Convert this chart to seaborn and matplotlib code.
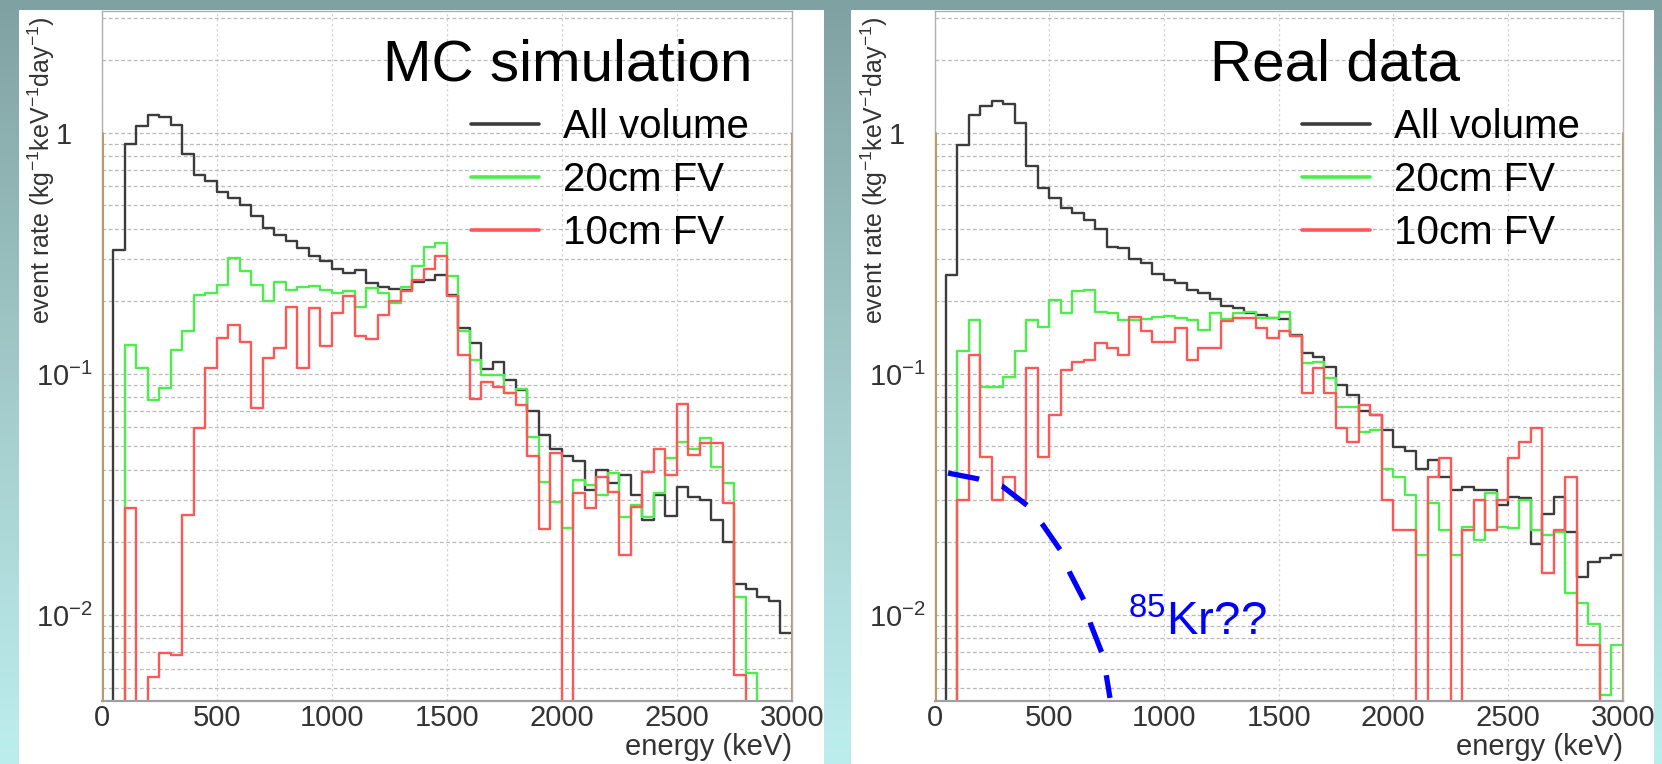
import numpy as np
import matplotlib
matplotlib.use("Agg")
import matplotlib.pyplot as plt
import seaborn as sns
from matplotlib.patches import Rectangle
from matplotlib.colors import LinearSegmentedColormap
from matplotlib.ticker import LogLocator, NullFormatter, MultipleLocator

# ---------------- data (event rate, kg^-1 keV^-1 day^-1, 50 keV bins) ----------------
energy_edges = np.arange(0, 3001, 50)  # keV

mc_all = [0, 0.327, 0.90, 1.07, 1.18, 1.16, 1.08, 0.82, 0.67, 0.63,
          0.57, 0.537, 0.503, 0.45, 0.403, 0.377, 0.357, 0.333, 0.307, 0.294,
          0.273, 0.263, 0.27, 0.238, 0.23, 0.224, 0.223, 0.241, 0.245, 0.257,
          0.213, 0.155, 0.134, 0.105, 0.112, 0.094, 0.086, 0.0705, 0.056, 0.049,
          0.0457, 0.0436, 0.033, 0.040, 0.0353, 0.038, 0.0315, 0.0248, 0.0315, 0.0258,
          0.0339, 0.031, 0.030, 0.0248, 0.0201, 0.0135, 0.0128, 0.0119, 0.0114, 0.0084]
mc_fv20 = [0, 0, 0.132, 0.106, 0.078, 0.087, 0.126, 0.151, 0.213, 0.216,
           0.234, 0.302, 0.266, 0.234, 0.200, 0.241, 0.223, 0.229, 0.232, 0.223,
           0.216, 0.22, 0.19, 0.227, 0.216, 0.197, 0.23, 0.279, 0.337, 0.349,
           0.255, 0.150, 0.114, 0.099, 0.099, 0.083, 0.0865, 0.0546, 0.0357, 0.0295,
           0.0229, 0.0363, 0.0346, 0.0315, 0.039, 0.0256, 0.0286, 0.0256, 0.032, 0.0447,
           0.0524, 0.049, 0.054, 0.0412, 0.0353, 0.0119, 0.00573, 0, 0, 0]
mc_fv10 = [0, 0, 0.0277, 0, 0.00555, 0.00694, 0.00685, 0.026, 0.0599, 0.106,
           0.141, 0.16, 0.136, 0.072, 0.116, 0.128, 0.19, 0.106, 0.187, 0.13,
           0.179, 0.211, 0.143, 0.139, 0.176, 0.2, 0.22, 0.246, 0.272, 0.309,
           0.211, 0.12, 0.0786, 0.093, 0.088, 0.083, 0.0744, 0.0457, 0.0227, 0.0472,
           0, 0.032, 0.0277, 0.0375, 0.0324, 0.0177, 0.0281, 0.0393, 0.049, 0.038,
           0.075, 0.0461, 0.0519, 0.0519, 0.0292, 0.00564, 0, 0, 0, 0]

data_all = [0, 0.257, 0.892, 1.19, 1.29, 1.35, 1.32, 1.10, 0.725, 0.59,
            0.535, 0.487, 0.465, 0.435, 0.398, 0.335, 0.332, 0.299, 0.288, 0.26,
            0.246, 0.238, 0.222, 0.216, 0.204, 0.192, 0.187, 0.179, 0.176, 0.171,
            0.169, 0.145, 0.122, 0.118, 0.107, 0.09, 0.082, 0.0699, 0.0677, 0.0587,
            0.0499, 0.048, 0.0405, 0.0441, 0.0375, 0.033, 0.034, 0.033, 0.033, 0.0286,
            0.0308, 0.0306, 0.0198, 0.0263, 0.0308, 0.0222, 0.0144, 0.0166, 0.0172, 0.0177]
data_fv20 = [0, 0, 0.124, 0.168, 0.088, 0.088, 0.097, 0.124, 0.168, 0.157,
             0.203, 0.179, 0.22, 0.223, 0.181, 0.179, 0.168, 0.168, 0.169, 0.173,
             0.174, 0.171, 0.168, 0.152, 0.179, 0.169, 0.179, 0.181, 0.171, 0.171,
             0.181, 0.143, 0.111, 0.112, 0.096, 0.0731, 0.0731, 0.0576, 0.0587, 0.0405,
             0.0375, 0.0315, 0.0177, 0.0292, 0.0225, 0.0177, 0.0232, 0.0205, 0.032, 0.0232,
             0.0229, 0.030, 0.0225, 0.0215, 0.0222, 0.0123, 0.0112, 0.0092, 0.00467, 0.0075]
data_fv10 = [0, 0, 0.030, 0.12, 0.0454, 0.030, 0.0375, 0.030, 0.106, 0.0454,
             0.0677, 0.104, 0.112, 0.114, 0.134, 0.128, 0.12, 0.173, 0.15, 0.136,
             0.136, 0.155, 0.114, 0.128, 0.128, 0.165, 0.17, 0.17, 0.155, 0.141,
             0.15, 0.143, 0.083, 0.106, 0.083, 0.0596, 0.0524, 0.0744, 0.0677, 0.030,
             0.0225, 0.0225, 0, 0.0375, 0.0447, 0, 0.0225, 0.030, 0.0225, 0.030,
             0.0447, 0.0524, 0.0596, 0.015, 0.0225, 0.0375, 0.0075, 0.0075, 0, 0]

kr_energy = [59, 190, 294, 408, 469, 551, 591, 656, 682, 735, 765]
kr_rate = [0.0388, 0.0367, 0.0343, 0.0283, 0.0239, 0.01845, 0.0149, 0.0113, 0.0091, 0.00676, 0.00453]

series_labels = ["All volume", "20cm FV", "10cm FV"]
series_colors = ["#3c3c3c", "#4cee4c", "#ff5656"]
x_ticks = [0, 500, 1000, 1500, 2000, 2500, 3000]
y_ticks = [0.01, 0.1, 1]
y_ticklabels = ["10$^{-2}$", "10$^{-1}$", "1"]
panel_titles = ["MC simulation", "Real data"]
y_label = "event rate (kg$^{-1}$keV$^{-1}$day$^{-1}$)"
x_label = "energy (keV)"

# ---------------- style ----------------
sns.set_theme(style="white")
plt.rcParams["font.family"] = ["Liberation Sans", "DejaVu Sans"]
plt.rcParams["mathtext.default"] = "regular"

W, H = 1662, 764
fig = plt.figure(figsize=(W / 100, H / 100), dpi=100)

# background gradient
bg = fig.add_axes([0, 0, 1, 1], zorder=-10)
grad = np.linspace(0, 1, 256).reshape(-1, 1)
cmap = LinearSegmentedColormap.from_list("bg", ["#80a1a1", "#a3caca", "#bdeeee"])
bg.imshow(grad, aspect="auto", cmap=cmap, extent=[0, 1, 0, 1], origin="upper")
bg.axis("off")

# white slide panels
for x0, x1 in [(19, 824), (851, 1654)]:
    fig.add_artist(Rectangle((x0 / W, 0), (x1 - x0) / W, (H - 10) / H,
                             transform=fig.transFigure, facecolor="white",
                             edgecolor="none", zorder=-5))

YLO, YHI = 0.0044, 3.2
axes_px = [(101.7, 792.0), (934.5, 1622.7)]
title_pos = [0.942, 0.764]
legend_x = [0.535, 0.534]
panels = [(mc_all, mc_fv20, mc_fv10), (data_all, data_fv20, data_fv10)]

axes = []
for i, (xa, xb) in enumerate(axes_px):
    ax = fig.add_axes([xa / W, 63 / H, (xb - xa) / W, 690 / H])
    ax.set_facecolor("none")
    for vals, col, lab in zip(panels[i], series_colors, series_labels):
        yy = list(vals) + [vals[-1]]
        sns.lineplot(x=energy_edges, y=yy, drawstyle="steps-post", color=col,
                     lw=1.7, label=lab, ax=ax, estimator=None, sort=False)
    ax.set_yscale("log")
    ax.set_xlim(0, 3000)
    ax.set_ylim(YLO, YHI)
    ax.set_xlabel("")
    ax.set_ylabel("")

    # ticks
    ax.set_xticks(x_ticks)
    ax.set_xticklabels([str(v) for v in x_ticks])
    ax.xaxis.set_minor_locator(MultipleLocator(100))
    ax.set_yticks(y_ticks)
    ax.set_yticklabels(y_ticklabels)
    ax.yaxis.set_minor_locator(LogLocator(base=10, subs=np.arange(2, 10)))
    ax.yaxis.set_minor_formatter(NullFormatter())
    ax.tick_params(axis="both", which="major", direction="in", length=9, width=1,
                   color="#808080", labelsize=21, labelcolor="#333333")
    ax.tick_params(axis="both", which="minor", direction="in", length=4.5, width=1,
                   color="#808080")
    ax.tick_params(axis="x", which="major", pad=2.5)
    ax.tick_params(axis="y", which="major", pad=27)
    for t in ax.get_yticklabels():
        t.set_horizontalalignment("center")

    # grid
    ax.grid(which="major", axis="x", color="#d4d4d4", ls=(0, (2, 2)), lw=0.9)
    ax.grid(which="both", axis="y", color="#b8b8b8", ls=(0, (3, 2)), lw=0.9)
    ax.set_axisbelow(True)

    # frame
    for s in ["top", "right", "left"]:
        ax.spines[s].set_color("#b0b0b0")
        ax.spines[s].set_linewidth(1.0)
    ax.spines["bottom"].set_color("#a0a0a0")
    ax.spines["bottom"].set_linewidth(1.6)
    frac1 = (np.log10(1) - np.log10(YLO)) / (np.log10(YHI) - np.log10(YLO))
    ax.axvline(0, ymin=0, ymax=frac1, color="#b89b6c", lw=2.2, zorder=5)
    ax.axvline(3000, ymin=0, ymax=frac1, color="#b89b6c", lw=2.2, zorder=5)

    # title
    ax.text(title_pos[i], 0.899, panel_titles[i], transform=ax.transAxes,
            ha="right", va="baseline", fontsize=42, color="black")

    # legend
    handles, labels = ax.get_legend_handles_labels()
    leg = ax.legend(handles[:3], labels[:3], loc="upper left",
                    bbox_to_anchor=(legend_x[i], 0.859), frameon=False,
                    fontsize=29, handlelength=1.69, handletextpad=0.6,
                    labelspacing=0.37, borderpad=0, borderaxespad=0)
    for ln in leg.get_lines():
        ln.set_linewidth(2.6)
    for txt in leg.get_texts():
        txt.set_color("black")

    # axis labels
    ax.text(-0.087, 0.993, y_label, transform=ax.transAxes, rotation=90,
            ha="center", va="top", fontsize=18, color="#333333")
    ax.text(1.0, -0.0666, x_label, transform=ax.transAxes, ha="right",
            va="center", fontsize=21, color="#333333")
    axes.append(ax)

# 85Kr annotation on real data panel
axR = axes[1]
sns.lineplot(x=kr_energy, y=kr_rate, color="#0000ff", lw=3.8, ax=axR,
             estimator=None, sort=False, legend=False)
kr_line = axR.lines[-1]
kr_line.set_dashes([6, 4.5])
kr_line.set_dash_capstyle("butt")
kr_line.set_zorder(6)
axR.set_ylim(YLO, YHI)
axR.set_xlim(0, 3000)
axR.text(844, 0.00826, "$^{85}$Kr??", ha="left", va="baseline",
         fontsize=34, color="#0000ff")

fig.savefig("out.png", dpi=100)
